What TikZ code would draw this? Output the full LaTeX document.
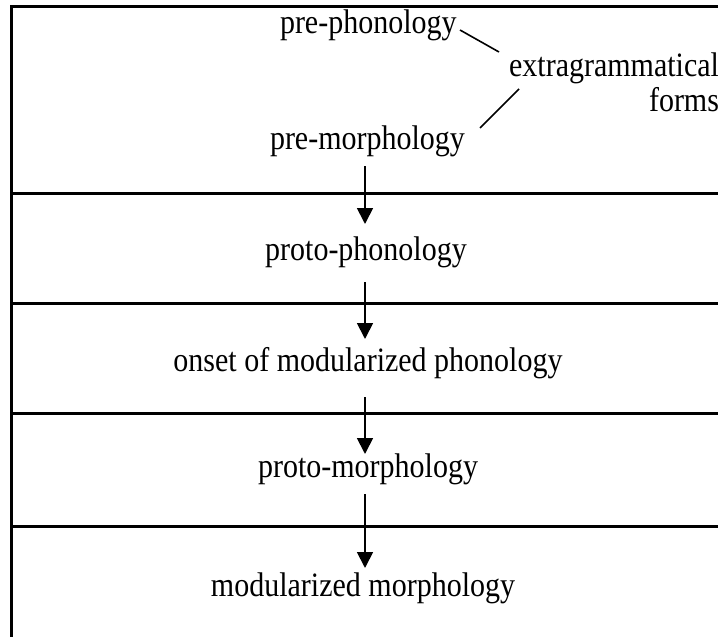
\documentclass[tikz,border=0pt]{standalone}
\usepackage{fontspec}
\usepackage{graphicx}
\setmainfont{Liberation Serif}
\usetikzlibrary{arrows.meta}
\newcommand{\talltext}[1]{\scalebox{1}[1.14]{#1}}
\begin{document}
\begin{tikzpicture}[x=1pt,y=-1pt,
  txt/.style={inner sep=0pt,outer sep=0pt,font=\fontsize{30}{34}\selectfont},
  frameline/.style={line width=3pt},
  conn/.style={line width=1.6pt},
  arr/.style={line width=1.8pt,-{Triangle[length=16pt,width=16pt]}}]
\useasboundingbox (0,0) rectangle (718,637);
\clip (0,0) rectangle (718,637);
% frame
\coordinate (tl) at (11,6);
\coordinate (bl) at (11,650);
\draw[frameline] (bl) -- (tl) -- (730,6);
\foreach \y in {193,303,413,526} \draw[frameline] (11,\y) -- (730,\y);
% texts
\node[txt,anchor=base west] (preph) at (280,34) {\talltext{pre-phonology}};
\node[txt,anchor=base west] (premo) at (270,149) {\talltext{pre-morphology}};
\node[txt,anchor=base east] (extra) at (719,76) {\talltext{extragrammatical}};
\node[txt,anchor=base east] (forms) at (719,111) {\talltext{forms}};
\node[txt,anchor=base] (protoph) at (366,260) {\talltext{proto-phonology}};
\node[txt,anchor=base] (onset) at (368,371) {\talltext{onset of modularized phonology}};
\node[txt,anchor=base] (protomo) at (368,477) {\talltext{proto-morphology}};
\node[txt,anchor=base] (modmo) at (363,596) {\talltext{modularized morphology}};
% connectors to extragrammatical forms
\coordinate (c1a) at (460,30);
\coordinate (c1b) at (499,52);
\coordinate (c2a) at (480,128);
\coordinate (c2b) at (519,89);
\draw[conn] (c1a) -- (c1b);
\draw[conn] (c2a) -- (c2b);
% arrows
\coordinate (a1s) at (365,166); \coordinate (a1e) at (365,224);
\coordinate (a2s) at (365,282); \coordinate (a2e) at (365,339);
\coordinate (a3s) at (365,397); \coordinate (a3e) at (365,454);
\coordinate (a4s) at (365,494); \coordinate (a4e) at (365,568);
\draw[arr] (a1s) -- (a1e);
\draw[arr] (a2s) -- (a2e);
\draw[arr] (a3s) -- (a3e);
\draw[arr] (a4s) -- (a4e);
\end{tikzpicture}
\end{document}
